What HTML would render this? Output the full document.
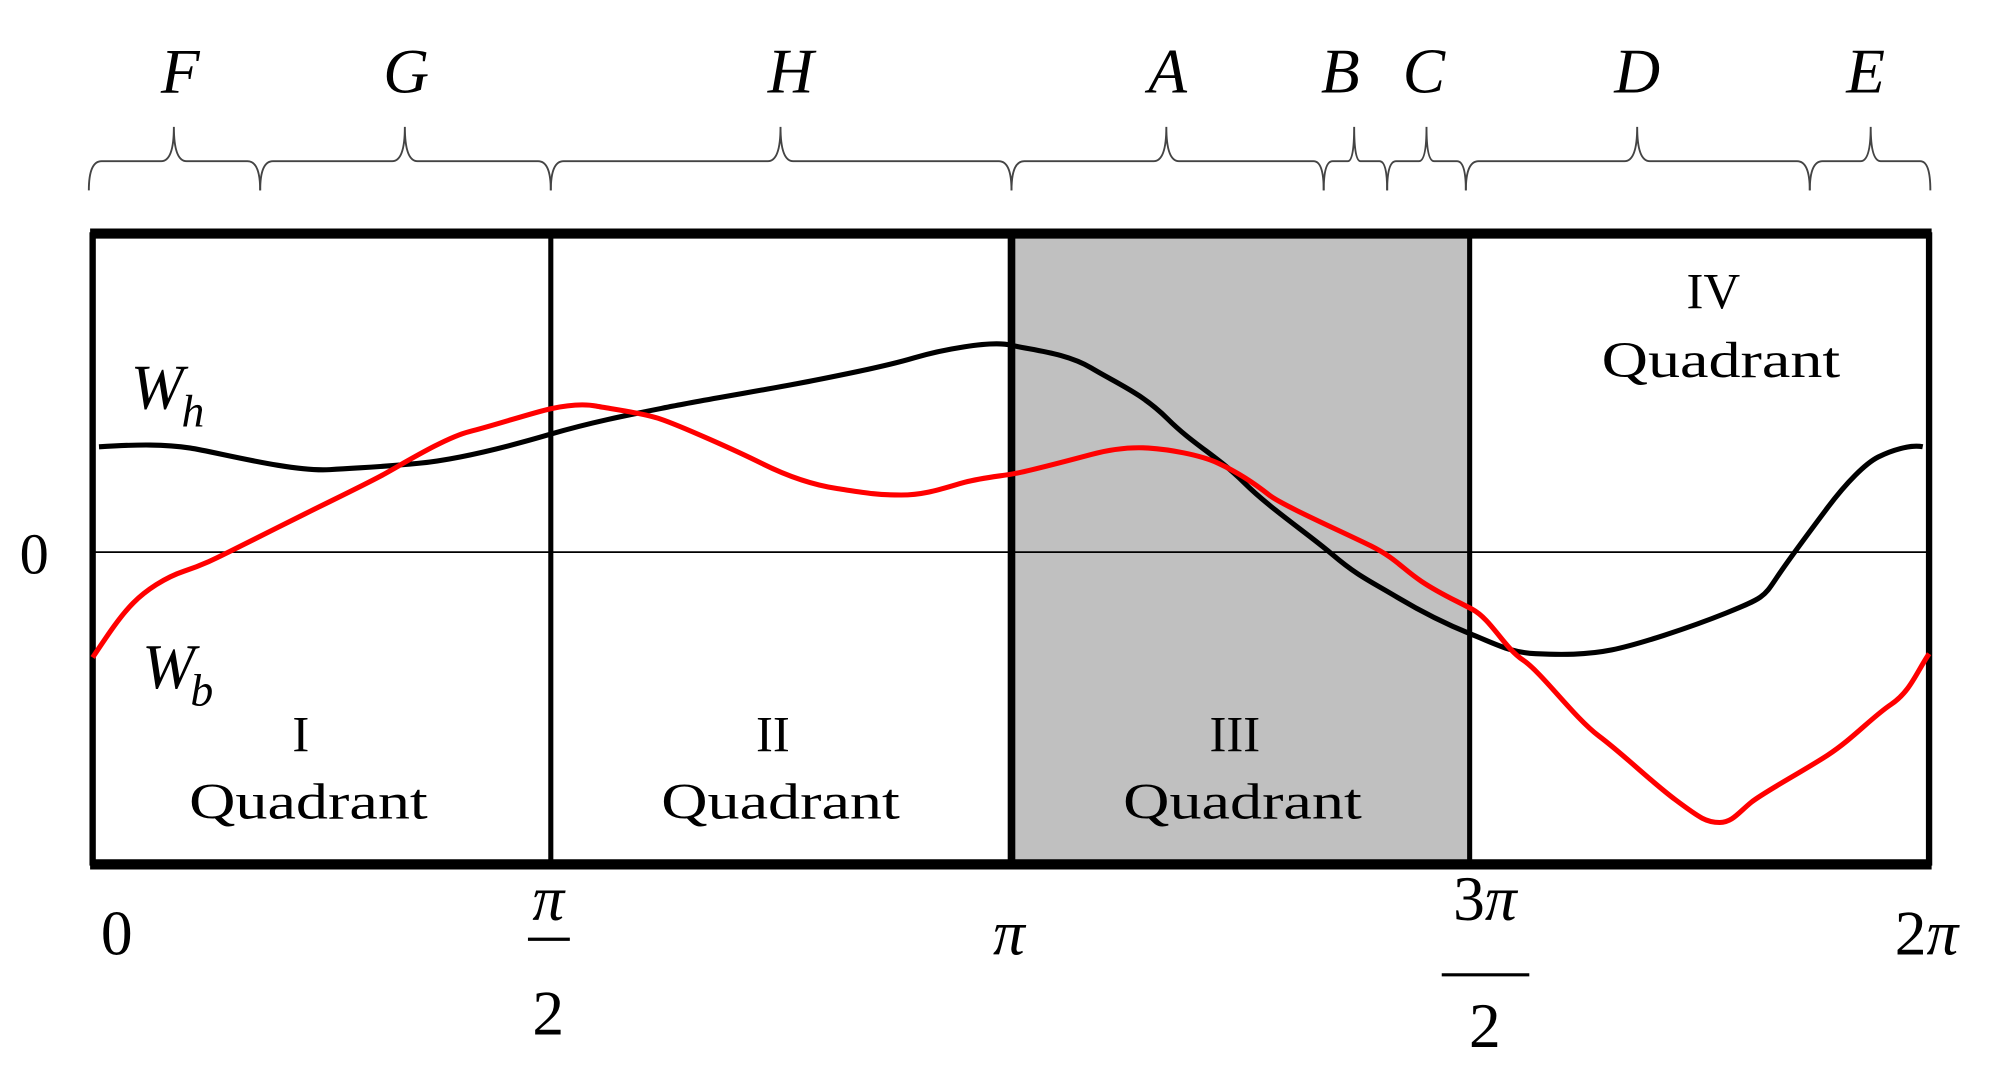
<!DOCTYPE html>
<html><head><style>html,body{margin:0;padding:0;background:#fff;width:1990px;height:1070px;overflow:hidden}</style></head>
<body>
<svg width="1990" height="1070" viewBox="0 0 1568 843" preserveAspectRatio="none" xmlns="http://www.w3.org/2000/svg">
<rect width="1568" height="843" fill="#fff"/>
<rect x="797" y="183" width="361" height="499" fill="#c0c0c0"/>
<line x1="73" y1="435" x2="1520" y2="435" stroke="#000" stroke-width="1.3"/>
<g stroke="#000" fill="none">
<line x1="73" y1="183" x2="73" y2="682" stroke-width="5"/>
<line x1="1520" y1="183" x2="1520" y2="682" stroke-width="5"/>
<line x1="71" y1="184" x2="1522" y2="184" stroke-width="8"/>
<line x1="71" y1="681" x2="1522" y2="681" stroke-width="8"/>
<line x1="434" y1="183" x2="434" y2="682" stroke-width="4"/>
<line x1="797" y1="183" x2="797" y2="682" stroke-width="6"/>
<line x1="1158" y1="183" x2="1158" y2="682" stroke-width="4"/>
</g>
<g stroke="#444" stroke-width="1.5" fill="none">
<path d="M70 150 Q70 127 80 127 L127 127 Q137 127 137 100 Q137 127 147 127 L195 127 Q205 127 205 150"/>
<path d="M205 150 Q205 127 215 127 L309 127 Q319 127 319 100 Q319 127 329 127 L424 127 Q434 127 434 150"/>
<path d="M434 150 Q434 127 444 127 L605 127 Q615 127 615 100 Q615 127 625 127 L787 127 Q797 127 797 150"/>
<path d="M797 150 Q797 127 807 127 L909 127 Q919 127 919 100 Q919 127 929 127 L1035 127 Q1043 127 1043 150"/>
<path d="M1043 150 Q1043 127 1050 127 L1062 127 Q1067 127 1067 100 Q1067 127 1072 127 L1087 127 Q1093 127 1093 150"/>
<path d="M1093 150 Q1093 127 1100 127 L1118 127 Q1124 127 1124 100 Q1124 127 1130 127 L1148 127 Q1155 127 1155 150"/>
<path d="M1155 150 Q1155 127 1165 127 L1280 127 Q1290 127 1290 100 Q1290 127 1300 127 L1416 127 Q1426 127 1426 150"/>
<path d="M1426 150 Q1426 127 1436 127 L1466 127 Q1474 127 1474 100 Q1474 127 1482 127 L1513 127 Q1521 127 1521 150"/>
</g>
<g font-family="Liberation Serif, serif" font-style="italic" font-size="50" text-anchor="middle" fill="#000">
<text x="142" y="73">F</text><text x="320" y="73">G</text><text x="623" y="73">H</text>
<text x="920" y="73">A</text><text x="1056" y="73">B</text><text x="1122" y="73">C</text>
<text x="1290" y="73">D</text><text x="1470" y="73">E</text>
</g>
<path fill="none" stroke="#000" stroke-width="4" stroke-linejoin="round" d="M78 352 C110 350,130 350,150 353 S230 372,260 370 S300 368,330 365 S400 352,434 342 S500 326,530 320 S610 306,640 300 S700 288,720 282 S780 268,797 272 S840 278,860 290 S900 310,920 330 S960 360,980 380 S1030 420,1050 437 S1080 458,1100 470 S1140 492,1160 500 S1190 514,1210 515 S1250 516,1270 512 S1330 495,1360 483 S1390 470,1400 455 S1425 420,1440 400 S1470 365,1480 360 S1505 350,1515 352"/>
<path fill="none" stroke="#f00" stroke-width="4" stroke-linejoin="round" d="M73 518 C85 500,95 485,105 475 S130 455,145 450 S170 440,180 435 S220 415,240 405 S285 383,300 375 S350 345,370 340 S420 325,434 322 S460 318,470 320 S505 325,520 330 S580 355,600 365 S640 382,660 385 S690 390,710 390 S745 384,760 380 S790 375,800 373 S845 362,860 358 S890 352,905 353 S945 358,960 365 S990 382,1000 390 S1060 420,1080 430 S1105 448,1120 458 S1145 472,1160 480 S1185 510,1200 520 S1240 565,1260 580 S1300 615,1320 630 S1345 648,1355 648 S1370 640,1380 632 S1420 608,1440 595 S1475 565,1490 555 S1510 530,1520 515"/>
<g font-family="Liberation Serif, serif" font-style="italic" fill="#000">
<text x="103" y="322" font-size="50">W</text><text x="143" y="336" font-size="36">h</text>
<text x="112" y="542" font-size="50">W</text><text x="150" y="556" font-size="36">b</text>
</g>
<g font-family="Liberation Serif, serif" fill="#000" text-anchor="middle">
<text x="27" y="452" font-size="46">0</text>
<g font-size="40">
<text x="237" y="592">I</text><text x="243" y="645" textLength="188" lengthAdjust="spacingAndGlyphs">Quadrant</text>
<text x="609" y="592">II</text><text x="615" y="645" textLength="188" lengthAdjust="spacingAndGlyphs">Quadrant</text>
<text x="973" y="592">III</text><text x="979" y="645" textLength="188" lengthAdjust="spacingAndGlyphs">Quadrant</text>
<text x="1350" y="243">IV</text><text x="1356" y="297" textLength="188" lengthAdjust="spacingAndGlyphs">Quadrant</text>
</g>
<g font-size="50">
<text x="92" y="752">0</text>
<text x="432" y="725" font-style="italic">π</text>
<text x="432" y="815">2</text>
<text x="795" y="752" font-style="italic">π</text>
<text x="1170" y="725"><tspan>3</tspan><tspan font-style="italic">π</tspan></text>
<text x="1170" y="825">2</text>
<text x="1518" y="752"><tspan>2</tspan><tspan font-style="italic">π</tspan></text>
</g>
</g>
<line x1="416" y1="740" x2="449" y2="740" stroke="#000" stroke-width="2.5"/>
<line x1="1136" y1="768" x2="1205" y2="768" stroke="#000" stroke-width="2.5"/>
</svg>
</body></html>
